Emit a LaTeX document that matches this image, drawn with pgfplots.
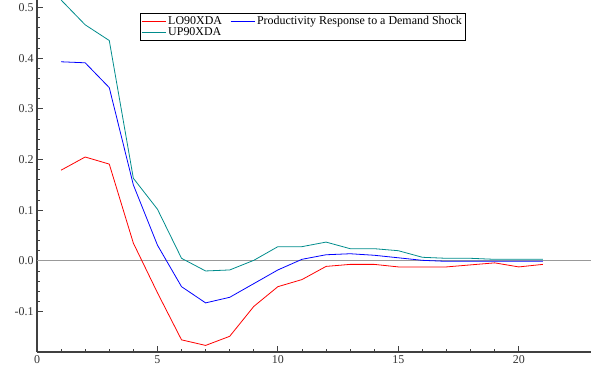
\documentclass[border=0pt]{standalone}
\usepackage{pgfplots}
\pgfplotsset{compat=1.18}
\usepackage{fontspec}
\setmainfont{Liberation Serif}
\definecolor{tealc}{RGB}{0,140,140}
\begin{document}
\begin{tikzpicture}[x=1bp,y=1bp]
\useasboundingbox (0,0) rectangle (599,379);
\begin{axis}[
  at={(37bp,27bp)}, anchor=south west,
  scale only axis, width=554bp, height=352bp,
  xmin=0, xmax=23, ymin=-0.18, ymax=0.515,
  axis lines=left,
  axis line style={-, draw=black!75, line width=1.2pt},
  xtick={0,5,10,15,20}, minor x tick num=4,
  ytick={-0.1,0,0.1,0.2,0.3,0.4,0.5}, minor y tick num=4,
  tick align=inside,
  major tick length=6bp, minor tick length=3bp,
  tick style={draw=black!75, line width=0.8pt},
  /pgf/number format/assume math mode=true,
  yticklabel style={/pgf/number format/fixed, /pgf/number format/precision=1, /pgf/number format/fixed zerofill, font=\fontsize{12}{14}\selectfont, text=black!80},
  xticklabel style={font=\fontsize{12}{14}\selectfont, text=black!80},
  legend style={at={(0.186,0.963)}, anchor=north west, draw=black, fill=white,
    font=\fontsize{12}{13}\selectfont, inner sep=1pt, row sep=-2pt,
    /tikz/every even column/.append style={column sep=6bp}},
  legend image code/.code={\draw[#1, line width=1pt] (0bp,0bp) -- (24bp,0bp);},
  legend columns=2,
  legend cell align=left,
  clip=false,
]
\addplot[draw=black!40, line width=0.9pt, forget plot] coordinates {(0,0) (23,0)};
\addplot[red, line width=0.8pt] coordinates {
(1,0.179) (2,0.205) (3,0.191) (4,0.035) (5,-0.063) (6,-0.156) (7,-0.167) (8,-0.149) (9,-0.090) (10,-0.051) (11,-0.037) (12,-0.011) (13,-0.007) (14,-0.007) (15,-0.012) (16,-0.012) (17,-0.012) (18,-0.008) (19,-0.004) (20,-0.012) (21,-0.007)};
\addlegendentry{LO90XDA}
\addplot[blue, line width=0.8pt] coordinates {
(1,0.393) (2,0.391) (3,0.342) (4,0.150) (5,0.031) (6,-0.051) (7,-0.083) (8,-0.072) (9,-0.045) (10,-0.018) (11,0.003) (12,0.012) (13,0.014) (14,0.011) (15,0.006) (16,0.001) (17,-0.001) (18,-0.001) (19,-0.001) (20,-0.001) (21,-0.001)};
\addlegendentry{Productivity Response to a Demand Shock}
\addplot[tealc, line width=0.8pt] coordinates {
(1,0.515) (2,0.466) (3,0.435) (4,0.163) (5,0.102) (6,0.005) (7,-0.020) (8,-0.018) (9,0.001) (10,0.028) (11,0.028) (12,0.037) (13,0.024) (14,0.024) (15,0.020) (16,0.007) (17,0.005) (18,0.005) (19,0.003) (20,0.003) (21,0.003)};
\addlegendentry{UP90XDA}
\end{axis}
\end{tikzpicture}
\end{document}
